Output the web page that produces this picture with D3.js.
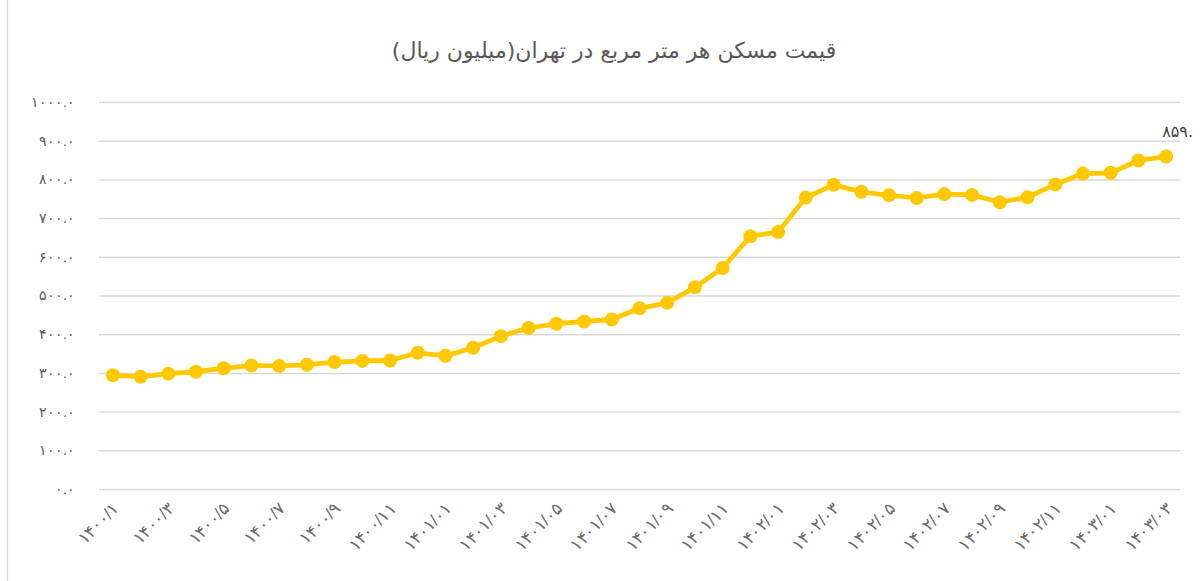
<!DOCTYPE html>
<html><head><meta charset="utf-8">
<script src="https://cdn.jsdelivr.net/npm/d3@7"></script>
<style>
html,body{margin:0;padding:0;background:#fff;}
svg{display:block;font-family:"DejaVu Sans",sans-serif;}
</style></head>
<body>
<svg id="c" width="1204" height="581"></svg>
<script>
const title = "قیمت مسکن هر متر  مربع در تهران(میلیون ریال)";
const categories = ["1400/1","1400/2","1400/3","1400/4","1400/5","1400/6","1400/7","1400/8","1400/9","1400/10","1400/11","1400/12",
 "1401/01","1401/02","1401/03","1401/04","1401/05","1401/06","1401/07","1401/08","1401/09","1401/10","1401/11","1401/12",
 "1402/01","1402/02","1402/03","1402/04","1402/05","1402/06","1402/07","1402/08","1402/09","1402/10","1402/11","1402/12",
 "1403/01","1403/02","1403/03"];
const prices = [294,290,298,303,312,319,318,321,328,331,332,352,344,365,395,416,427,433,438,467,
 481,521,571,653,664,753,786,768,759,752,762,760,741,754,787,815,817,849,859];
const yTicks = [0,100,200,300,400,500,600,700,800,900,1000];
const lastLabel = "۸۵۹.";

const fa = s => String(s).replace(/[0-9]/g, d => "۰۱۲۳۴۵۶۷۸۹"[d]);
const svg = d3.select("#c");
const W = 1204, H = 581;
const m = {l:99, r:24, t:102, b:92};

svg.append("line").attr("x1",7.5).attr("x2",7.5).attr("y1",0).attr("y2",H)
  .attr("stroke","#d9d9d9").attr("stroke-width",1.5);

svg.append("text").attr("x",614).attr("y",58).attr("text-anchor","middle")
  .attr("direction","rtl").attr("font-size",22).attr("fill","#595959").text(title);

const x = d3.scaleBand().domain(categories).range([m.l, W-m.r]);
const y = d3.scaleLinear().domain([0,1000]).range([H-m.b, m.t]);
const cx = d => x(d) + x.bandwidth()/2;

const yAxis = svg.append("g").attr("transform",`translate(${m.l},0)`)
  .call(d3.axisLeft(y).tickValues(yTicks).tickSize(-(W-m.l-m.r)).tickPadding(24)
    .tickFormat(v => fa(v.toFixed(1))));
yAxis.select(".domain").remove();
yAxis.selectAll(".tick line").attr("stroke","#d9d9d9").attr("stroke-width",1.5);
yAxis.selectAll(".tick text").attr("fill","#595959").attr("font-size",14)
  .attr("x",-24).attr("text-anchor","end").attr("dx",0);

const xLabels = categories.filter((d,i)=>i%2===0);
const xAxis = svg.append("g").attr("transform",`translate(0,${H-m.b})`)
  .call(d3.axisBottom(x).tickValues(xLabels).tickSize(0).tickFormat(fa));
xAxis.select(".domain").remove();
xAxis.selectAll(".tick text").attr("fill","#6a6a6a").attr("font-size",17).attr("font-weight",200)
  .attr("text-anchor","end").attr("dy",0).attr("y",0)
  .attr("transform","translate(7,21) rotate(-45)");

const line = d3.line().x((d,i)=>cx(categories[i])).y(d=>y(d));
svg.append("path").datum(prices).attr("d",line).attr("fill","none")
  .attr("stroke","#FFC800").attr("stroke-width",4.8).attr("stroke-linejoin","round");
svg.selectAll("circle.pt").data(prices).enter().append("circle").attr("class","pt")
  .attr("cx",(d,i)=>cx(categories[i])).attr("cy",d=>y(d)).attr("r",7).attr("fill","#FFC800");

const li = prices.length-1;
svg.append("text").attr("x",cx(categories[li])-4).attr("y",y(prices[li])-20)
  .attr("font-size",16).attr("fill","#404040").text(lastLabel);
</script>
</body></html>
